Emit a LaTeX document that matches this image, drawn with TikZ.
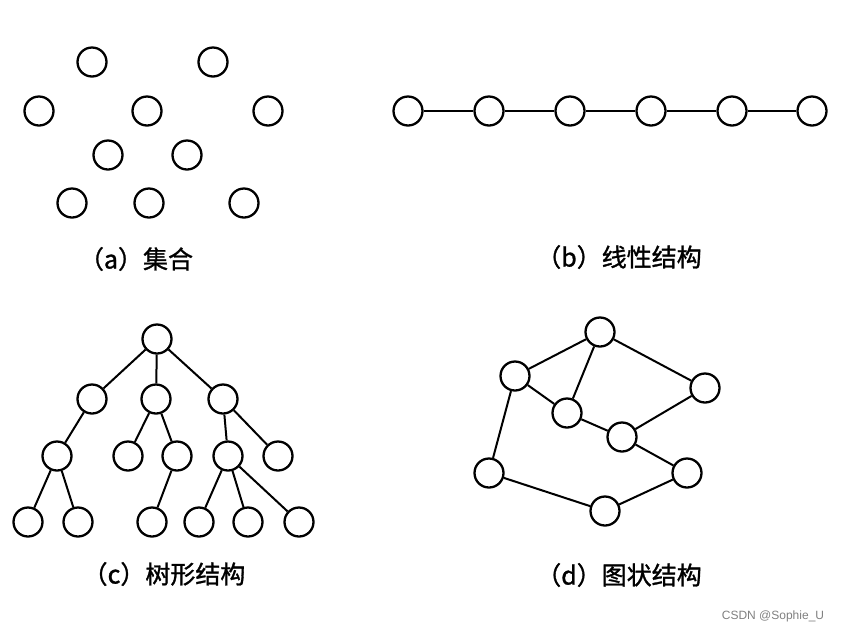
\documentclass[tikz,border=0pt]{standalone}
\usepackage{fontspec}
\newfontfamily\cjk[FakeBold=1.2]{Noto Sans CJK SC}
\setsansfont{Liberation Sans}

\begin{document}
\begin{tikzpicture}[x=1pt,y=-1pt]
            \tikzset{vertex/.style = {shape=circle, draw, line width=2.3pt, minimum size=29pt, inner sep=0pt}}
            \tikzset{edge/.style = {draw, line width=2pt, -}}
            \tikzset{caption/.style = {font=\cjk\fontsize{25}{28}\selectfont}}
            \useasboundingbox (0,0) rectangle (843,633);
            % (a) set
            \node[vertex] (a1) at (92,62) {};
            \node[vertex] (a2) at (213,62) {};
            \node[vertex] (a3) at (39,111) {};
            \node[vertex] (a4) at (147,111) {};
            \node[vertex] (a5) at (268,111) {};
            \node[vertex] (a6) at (108,155) {};
            \node[vertex] (a7) at (187,155) {};
            \node[vertex] (a8) at (72,203) {};
            \node[vertex] (a9) at (149,203) {};
            \node[vertex] (a10) at (244,203) {};
            \node[caption] (capa) at (136,259) {（a）集合};
            % (b) linear
            \node[vertex] (b1) at (408,111) {};
            \node[vertex] (b2) at (489,111) {};
            \node[vertex] (b3) at (570,111) {};
            \node[vertex] (b4) at (651,111) {};
            \node[vertex] (b5) at (732,111) {};
            \node[vertex] (b6) at (812,111) {};
            \node[caption] (capb) at (619,257) {（b）线性结构};
            \draw[edge] (b1) to (b2);
            \draw[edge] (b2) to (b3);
            \draw[edge] (b3) to (b4);
            \draw[edge] (b4) to (b5);
            \draw[edge] (b5) to (b6);
            % (c) tree
            \node[vertex] (c0) at (157,339) {};
            \node[vertex] (c1) at (92,399) {};
            \node[vertex] (c2) at (156,399) {};
            \node[vertex] (c3) at (223,399) {};
            \node[vertex] (c4) at (57,456) {};
            \node[vertex] (c5) at (128,456) {};
            \node[vertex] (c6) at (177,456) {};
            \node[vertex] (c7) at (228,456) {};
            \node[vertex] (c8) at (278,456) {};
            \node[vertex] (c9) at (28,522) {};
            \node[vertex] (c10) at (78,522) {};
            \node[vertex] (c11) at (152,522) {};
            \node[vertex] (c12) at (199,522) {};
            \node[vertex] (c13) at (248,522) {};
            \node[vertex] (c14) at (299,522) {};
            \node[caption] (capc) at (164,574) {（c）树形结构};
            \draw[edge] (c0) to (c1);
            \draw[edge] (c0) to (c2);
            \draw[edge] (c0) to (c3);
            \draw[edge] (c1) to (c4);
            \draw[edge] (c2) to (c5);
            \draw[edge] (c2) to (c6);
            \draw[edge] (c3) to (c7);
            \draw[edge] (c3) to (c8);
            \draw[edge] (c4) to (c9);
            \draw[edge] (c4) to (c10);
            \draw[edge] (c6) to (c11);
            \draw[edge] (c7) to (c12);
            \draw[edge] (c7) to (c13);
            \draw[edge] (c7) to (c14);
            % (d) graph
            \node[vertex] (d1) at (600,332) {};
            \node[vertex] (d2) at (515,376) {};
            \node[vertex] (d3) at (705,388) {};
            \node[vertex] (d4) at (567,413) {};
            \node[vertex] (d5) at (622,437) {};
            \node[vertex] (d6) at (489,473) {};
            \node[vertex] (d7) at (687,473) {};
            \node[vertex] (d8) at (605,511) {};
            \node[caption] (capd) at (619,575) {（d）图状结构};
            \draw[edge] (d2) to (d1);
            \draw[edge] (d1) to (d4);
            \draw[edge] (d1) to (d3);
            \draw[edge] (d2) to (d4);
            \draw[edge] (d4) to (d5);
            \draw[edge] (d3) to (d5);
            \draw[edge] (d5) to (d7);
            \draw[edge] (d7) to (d8);
            \draw[edge] (d8) to (d6);
            \draw[edge] (d6) to (d2);
            % watermark
            \node[font=\sffamily\fontsize{12}{14}\selectfont, text=black!50] (mark) at (773,616) {CSDN @Sophie\_U};
        \end{tikzpicture}
\end{document}
